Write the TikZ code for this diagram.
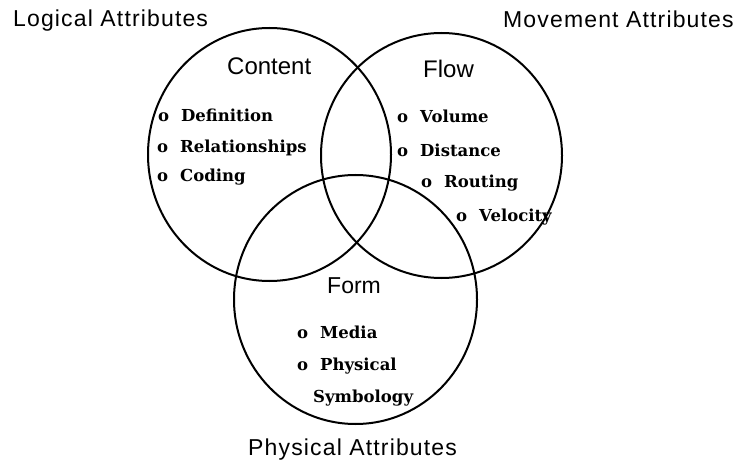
\documentclass[tikz,border=0pt]{standalone}
\usepackage{fontspec}
\newfontfamily\titlefont[LetterSpace=5]{Liberation Sans}
\newfontfamily\labelfont{Liberation Sans}
\newfontfamily\itemfont{DejaVu Serif}
\newcommand{\bul}[1]{\makebox[23pt][l]{o}#1}
\begin{document}
\begin{tikzpicture}[x=1pt,y=-1pt,
  venn/.style={draw=black,line width=2pt},
  title/.style={anchor=base west,inner sep=0pt,font=\titlefont\fontsize{23}{27}\selectfont},
  setlabel/.style={anchor=base west,inner sep=0pt,font=\labelfont\fontsize{24}{28}\selectfont},
  item/.style={anchor=base west,inner sep=0pt,font=\itemfont\bfseries\fontsize{16.5}{19}\selectfont}]
\useasboundingbox (0,0) rectangle (736,465);
\fill[white] (0,0) rectangle (736,465);
% circles
\draw[venn] (269.5,154.5) ellipse [x radius=121.5, y radius=126.5];
\draw[venn] (441.5,155.5) ellipse [x radius=120.5, y radius=122.5];
\draw[venn] (355.5,299.5) ellipse [x radius=121.5, y radius=124.5];
% titles
\node[title] (logical) at (13,27) {Logical Attributes};
\node[title] (movement) at (503,28) {Movement Attributes};
\node[title] (physical) at (248,455) {Physical Attributes};
% set labels
\node[setlabel] (content) at (227,75) {Content};
\node[setlabel] (flow) at (423,78) {Flow};
\node[setlabel,font=\labelfont\fontsize{23}{27}\selectfont] (form) at (327,293) {Form};
% items
\node[item] (i1) at (158,122) {\bul{Definition}};
\node[item] (i2) at (157,153) {\bul{Relationships}};
\node[item] (i3) at (157,182) {\bul{Coding}};
\node[item] (i4) at (397,123) {\bul{Volume}};
\node[item] (i5) at (397,157) {\bul{Distance}};
\node[item] (i6) at (421,188) {\bul{Routing}};
\node[item] (i7) at (456,222) {\bul{Velocity}};
\node[item] (i8) at (297,338) {\bul{Media}};
\node[item] (i9) at (297,370) {\bul{Physical}};
\node[item] (i10) at (313,402) {Symbology};
\end{tikzpicture}
\end{document}
